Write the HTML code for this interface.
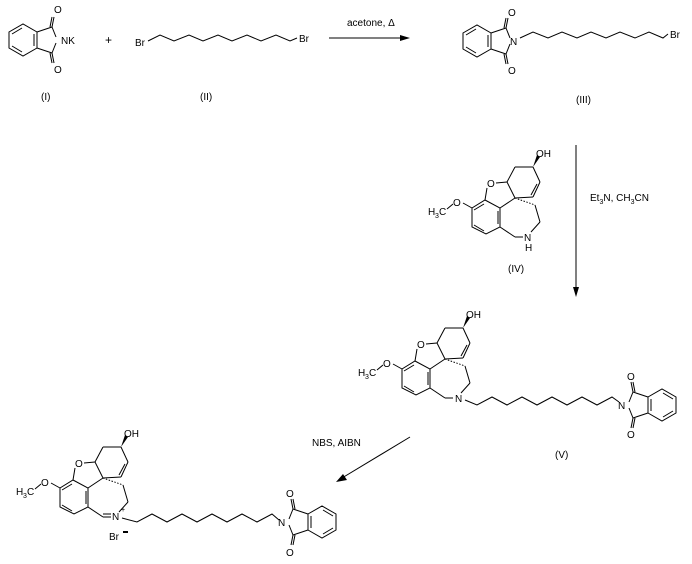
<!DOCTYPE html>
<html><head><meta charset="utf-8"><style>
html,body{margin:0;padding:0;background:#fff;}
svg{display:block;font-family:"Liberation Sans",Arial,sans-serif;font-size:10px;}
</style></head><body>
<svg width="692" height="564" viewBox="0 0 692 564" xmlns="http://www.w3.org/2000/svg">
<defs>
<g id="phth" stroke="#000" stroke-width="1" fill="none">
  <line x1="-4" y1="-3" x2="-8" y2="-13"/>
  <line x1="-4" y1="3" x2="-8" y2="13"/>
  <line x1="-8" y1="-13" x2="-23" y2="-8"/>
  <line x1="-8" y1="13" x2="-23" y2="8"/>
  <line x1="-8" y1="-13" x2="-6" y2="-23"/><line x1="-10" y1="-13" x2="-8" y2="-23"/>
  <line x1="-8" y1="13" x2="-6" y2="23"/><line x1="-10" y1="13" x2="-8" y2="23"/>
  <polygon points="-23,-8 -23,8 -37,16 -51,8 -51,-8 -37,-16"/>
  <line x1="-26" y1="-6" x2="-26" y2="6"/>
  <line x1="-38" y1="12" x2="-48" y2="6"/>
  <line x1="-48" y1="-6" x2="-38" y2="-12"/>
</g>
<g id="core">
  <g stroke="#000" stroke-width="1" fill="none">
    <line x1="533" y1="167" x2="515" y2="167"/>
    <line x1="515" y1="167" x2="507" y2="182"/>
    <line x1="507" y1="182" x2="496" y2="183"/>
    <line x1="487" y1="188" x2="485" y2="200"/>
    <polygon points="485,200 500,208 500,227 486,234 472,227 472,208"/>
    <line x1="498" y1="211" x2="498" y2="224"/>
    <line x1="484" y1="231" x2="474" y2="225"/>
    <line x1="474" y1="210" x2="484" y2="204"/>
    <line x1="500" y1="208" x2="515" y2="198"/>
    <line x1="507" y1="182" x2="515" y2="198"/>
    <line x1="533" y1="167" x2="540" y2="182"/>
    <line x1="540" y1="182" x2="533" y2="197"/>
    <line x1="537" y1="184" x2="531" y2="195"/>
    <line x1="533" y1="197" x2="515" y2="198"/>
    <line x1="515" y1="198" x2="535" y2="205" stroke-dasharray="1.5,1.5"/>
    <line x1="535" y1="205" x2="540" y2="222"/>
    <line x1="540" y1="222" x2="531" y2="232"/>
    <line x1="500" y1="227" x2="515" y2="237"/>
    <line x1="472" y1="208" x2="463" y2="203"/>
    <line x1="453" y1="204" x2="447" y2="209"/>
  </g>
  <polygon points="533,167 537,155 540,157" fill="#000"/>
  <text x="536" y="157">OH</text>
  <text x="487" y="187">O</text>
  <text x="453" y="206">O</text>
  <text x="428" y="215">H</text><text x="435" y="218" font-size="7">3</text><text x="439" y="215">C</text>
</g>
</defs>

<!-- I -->
<use href="#phth" x="60" y="40"/>
<text x="61" y="44">NK</text>
<text x="54" y="13">O</text>
<text x="54" y="73">O</text>
<text x="105" y="44" font-size="12">+</text>
<!-- II -->
<text x="135" y="46">Br</text>
<polyline points="148,41 160,35 174,41 189,35 203,41 218,35 232,41 247,35 261,41 276,35 290,41 297,38" fill="none" stroke="#000"/>
<text x="299" y="42">Br</text>
<text x="41" y="100">(I)</text>
<text x="200" y="100">(II)</text>
<!-- arrow 1 -->
<line x1="329" y1="38" x2="403" y2="38" stroke="#000"/>
<polygon points="410,38 400,35 400,41" fill="#000"/>
<text x="347" y="26">acetone, Δ</text>
<!-- III -->
<use href="#phth" x="514" y="41"/>
<text x="510" y="45">N</text>
<text x="508" y="16">O</text>
<text x="508" y="74">O</text>
<polyline points="520,38 533,32 548,38 562,32 577,38 591,32 606,38 620,32 635,38 649,32 663,38 668,34" fill="none" stroke="#000"/>
<text x="670" y="38">Br</text>
<text x="576" y="103">(III)</text>
<!-- arrow 2 -->
<line x1="576" y1="145" x2="576" y2="290" stroke="#000"/>
<polygon points="576,297 573,287 579,287" fill="#000"/>
<text x="590" y="201">Et<tspan font-size="7" dy="3">3</tspan><tspan dy="-3">N, CH</tspan><tspan font-size="7" dy="3">3</tspan><tspan dy="-3">CN</tspan></text>
<!-- IV -->
<use href="#core"/>
<line x1="515" y1="237" x2="523" y2="237" stroke="#000"/>
<text x="524" y="241">N</text>
<text x="525" y="251">H</text>
<text x="508" y="272">(IV)</text>
<!-- V -->
<use href="#core" x="-70" y="161"/>
<line x1="445" y1="398" x2="453" y2="398" stroke="#000"/>
<text x="455" y="402">N</text>
<polyline points="465,400 477,405 492,397 507,405 522,397 537,405 552,397 567,405 582,397 597,405 612,397 619,402" fill="none" stroke="#000"/>
<use href="#phth" transform="translate(625,405) scale(-1,1)"/>
<text x="618" y="409">N</text>
<text x="627" y="380">O</text>
<text x="627" y="438">O</text>
<text x="555" y="458">(V)</text>
<!-- arrow 3 -->
<line x1="410" y1="437" x2="342" y2="478" stroke="#000"/>
<polygon points="336,482 343,474 347,480" fill="#000"/>
<text x="312" y="446">NBS, AIBN</text>
<!-- VI -->
<use href="#core" x="-412" y="280"/>
<line x1="103" y1="517" x2="111" y2="517" stroke="#000"/>
<line x1="103" y1="514" x2="111" y2="514" stroke="#000"/>
<text x="112" y="520">N</text>
<text x="121" y="512" font-size="7">+</text>
<polyline points="122,518 137,522 152,514 167,522 182,514 197,522 212,514 227,522 242,514 257,522 272,514 279,520" fill="none" stroke="#000"/>
<use href="#phth" transform="translate(285,522) scale(-1,1)"/>
<text x="278" y="526">N</text>
<text x="286" y="497">O</text>
<text x="286" y="556">O</text>
<text x="109" y="540">Br</text>
<rect x="123" y="531" width="5" height="2" fill="#000"/>
</svg>
</body></html>
